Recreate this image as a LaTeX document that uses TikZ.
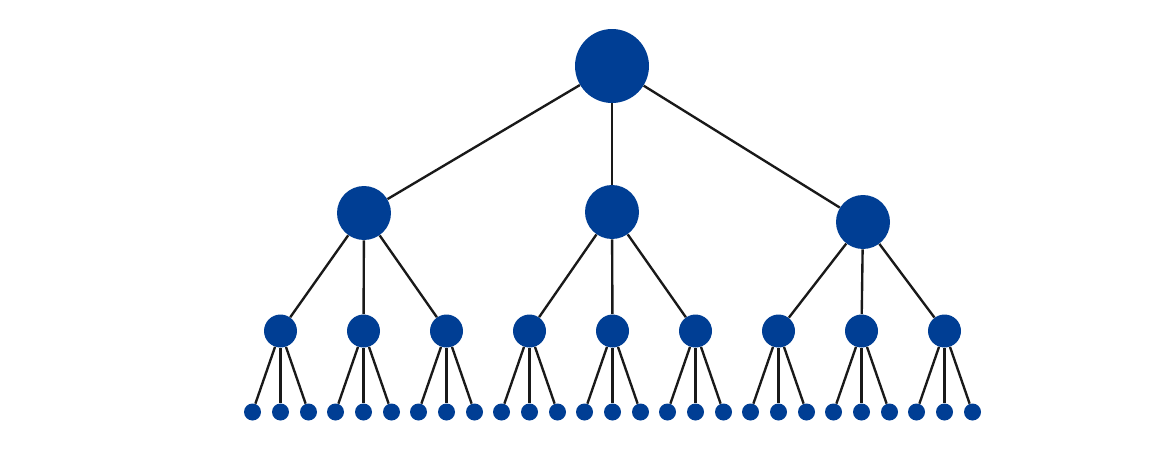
\documentclass[tikz,border=0pt]{standalone}
\usepackage{tikz}

\definecolor{treeblue}{RGB}{0,62,148}

\tikzset{
    dot/.style={circle,fill=treeblue,inner sep=0pt},
    rootdot/.style={dot,minimum size=1.48cm},
    bigdot/.style={dot,minimum size=1.08cm},
    middot/.style={dot,minimum size=0.66cm},
    leafdot/.style={dot,minimum size=0.34cm},
    branch/.style={line width=1.35pt,black!90}
}

\begin{document}
\begin{tikzpicture}[x=0.02cm,y=-0.02cm]
    \useasboundingbox (0,0) rectangle (1163,460);

    % top of the tree
    \node[rootdot] (root) at (612,66) {};

    \node[bigdot] (b1) at (364,213) {};
    \node[bigdot] (b2) at (612,212) {};
    \node[bigdot] (b3) at (863,222) {};

    \draw[branch] (root) -- (b1);
    \draw[branch] (root) -- (b2);
    \draw[branch] (root) -- (b3);

    % second row and leaves
    \foreach \i in {1,...,9} {
        \pgfmathtruncatemacro{\p}{int((\i-1)/3)+1}
        \node[middot] (m\i) at ({280.5+83*(\i-1)},331) {};
        \draw[branch] (b\p) -- (m\i);
        \foreach \j/\dx in {1/-28,2/0,3/28} {
            \node[leafdot] (l\i\j) at ({280.5+83*(\i-1)+\dx},412) {};
            \draw[branch] (m\i) -- (l\i\j);
        }
    }
\end{tikzpicture}
\end{document}
